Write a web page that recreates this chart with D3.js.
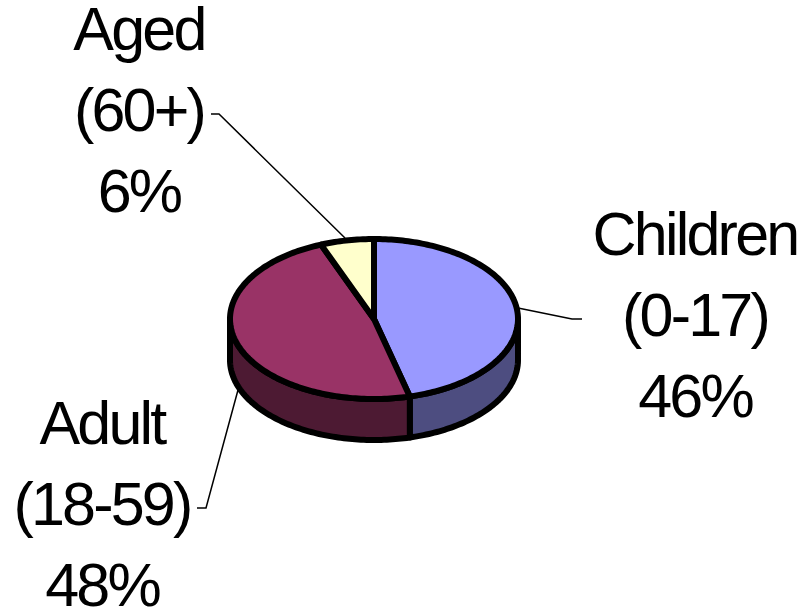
<!DOCTYPE html>
<html>
<head>
<meta charset="utf-8">
<script src="https://d3js.org/d3.v7.min.js"></script>
<style>
  html, body { margin: 0; background: #fff; }
  text { font-family: "Liberation Sans", Arial, sans-serif; font-size: 61px; letter-spacing: -2.8px; fill: #000; }
</style>
</head>
<body>
<svg id="chart" width="802" height="615"></svg>
<script>
const categories = ["Children", "Adult", "Aged"]
const ranges = ["(0-17)", "(18-59)", "(60+)"]
const shares = [46, 48, 6]
const topColors = ["#9999ff", "#993366", "#ffffcc"]
const sideColors = ["#4d4d80", "#4d1a33", "#808066"]

const cx = 374, cy = 319, rx = 144, ry = 80, depth = 41

const svg = d3.select("#chart")
const pie = d3.pie().sort(null).value(d => d)(shares)

// flatten the circle into an ellipse, angle 0 is at the top
const px = a => cx + rx * Math.sin(a)
const py = a => cy - ry * Math.cos(a)

function topPath(d) {
  const p = d3.path()
  p.moveTo(cx, cy)
  p.lineTo(px(d.startAngle), py(d.startAngle))
  d3.range(d.startAngle, d.endAngle, 0.02).forEach(a => p.lineTo(px(a), py(a)))
  p.lineTo(px(d.endAngle), py(d.endAngle))
  p.closePath()
  return p.toString()
}

function sidePath(d) {
  // only the front half (angles PI/2..3PI/2) is visible
  const a0 = Math.max(d.startAngle, Math.PI / 2)
  const a1 = Math.min(d.endAngle, 3 * Math.PI / 2)
  if (a1 <= a0) return null
  const p = d3.path()
  p.moveTo(px(a0), py(a0))
  d3.range(a0, a1, 0.02).forEach(a => p.lineTo(px(a), py(a)))
  p.lineTo(px(a1), py(a1))
  p.lineTo(px(a1), py(a1) + depth)
  d3.range(a1, a0, -0.02).forEach(a => p.lineTo(px(a), py(a) + depth))
  p.lineTo(px(a0), py(a0) + depth)
  p.closePath()
  return p.toString()
}

const leaders = [
  [[518, 308], [572, 319], [582, 319]],
  [[238, 390], [206, 508], [197, 508]],
  [[345, 238], [219, 114], [211, 114]]
]
svg.append("g").selectAll("path").data(leaders).join("path")
  .attr("d", d3.line())
  .attr("fill", "none").attr("stroke", "#000").attr("stroke-width", 1.5)

svg.append("g").selectAll("path").data(pie).join("path")
  .attr("d", sidePath)
  .attr("fill", (d, i) => sideColors[i])
  .attr("stroke", "#000").attr("stroke-width", 6).attr("stroke-linejoin", "round")

svg.append("g").selectAll("path").data(pie).join("path")
  .attr("d", topPath)
  .attr("fill", (d, i) => topColors[i])
  .attr("stroke", "#000").attr("stroke-width", 6).attr("stroke-linejoin", "round")

const labelX = [695, 102, 139]
const labelY = [255, 444, 50]
const labels = svg.append("g").selectAll("text").data(categories).join("text")
  .attr("text-anchor", "middle")
  .attr("x", (d, i) => labelX[i])
  .attr("y", (d, i) => labelY[i])
labels.each(function (d, i) {
  const t = d3.select(this)
  ;[d, ranges[i], shares[i] + "%"].forEach((s, k) => {
    t.append("tspan").attr("x", labelX[i]).attr("dy", k ? 81 : 0).text(s)
  })
})
</script>
</body>
</html>
